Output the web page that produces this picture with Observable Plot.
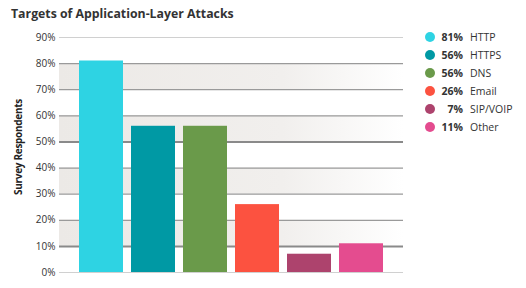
<!DOCTYPE html>
<html><head><meta charset="utf-8">
<script src="https://cdn.jsdelivr.net/npm/d3@7"></script>
<script src="https://cdn.jsdelivr.net/npm/@observablehq/plot@0.6"></script>
<style>
body{margin:0;background:#fff;font-family:"Open Sans",sans-serif;}
#wrap{position:relative;width:526px;height:288px;}
#title{position:absolute;left:11px;top:5px;font-size:12.3px;font-weight:bold;color:#333;white-space:nowrap;}
#legend{position:absolute;left:425px;top:28px;font-size:10.5px;color:#333;}
.row{height:18px;display:flex;align-items:center;}
.sw{width:10px;height:10px;border-radius:50%;margin-right:2px;}
.pct{width:26px;text-align:right;font-weight:bold;margin-right:7px;}
#ylab{position:absolute;left:-37px;top:140px;transform:rotate(-90deg);font-size:10px;font-weight:bold;color:#222;width:110px;text-align:center;white-space:nowrap;letter-spacing:-0.3px;}
</style></head>
<body><div id="wrap"><div id="chart"></div><div id="title">Targets of Application-Layer Attacks</div><div id="ylab">Survey Respondents</div><div id="legend"></div></div>
<script>
const categories = ["HTTP","HTTPS","DNS","Email","SIP/VOIP","Other"];
const values = [81,56,56,26,7,11];
const colors = ["#2ed3e3","#0099a4","#6a9a4a","#fc5240","#ad436d","#e44c8f"];
const ticks = [0,10,20,30,40,50,60,70,80,90];

const data = categories.map((c,i)=>({name:c,value:values[i],color:colors[i]}));
const bands = ticks.filter((t,i)=>i%2===1 && i<ticks.length-1).map(t=>({y1:t,y2:t+10}));

const chart = Plot.plot({
  width:526, height:288,
  marginLeft:59, marginRight:123, marginTop:37, marginBottom:16,
  style:{fontFamily:"Open Sans, sans-serif",fontSize:"10px",color:"#333",background:"transparent"},
  x:{domain:categories, axis:null, paddingInner:0.157, paddingOuter:0.383},
  y:{domain:[0,90], ticks:ticks, tickFormat:d=>d+"%", tickSize:0, tickPadding:4, label:null},
  marks:[
    Plot.rectY(bands,{y1:"y1",y2:"y2",fill:"#eeebe8",className:"band"}),
    Plot.ruleY(ticks.filter(t=>t>0&&t<90),{stroke:d=>(d===10||d===50)?"#8a8a8a":"#9a9a9a",strokeWidth:d=>(d===10||d===50)?2:1.2}),
    Plot.ruleY([90],{stroke:"#d0d0d0"}),
    Plot.ruleY([0],{stroke:"#d0d0d0"}),
    Plot.ruleX([0],{frameAnchor:"left",stroke:"#d0d0d0",y1:0,y2:90}),
    Plot.barY(data,{x:"name",y:"value",fill:"color"})
  ]
});
document.getElementById("chart").appendChild(chart);

// gradient for bands
const svg = d3.select(chart);
const defs = svg.insert("defs",":first-child");
const g = defs.append("linearGradient").attr("id","bandgrad").attr("x1","0").attr("x2","1").attr("y1","0").attr("y2","0");
g.append("stop").attr("offset","0%").attr("stop-color","#ece9e6");
g.append("stop").attr("offset","65%").attr("stop-color","#f1efed");
g.append("stop").attr("offset","100%").attr("stop-color","#ffffff");
svg.selectAll(".band rect").attr("fill","url(#bandgrad)");

const leg = d3.select("#legend");
data.forEach(d=>{
  const r = leg.append("div").attr("class","row");
  r.append("div").attr("class","sw").style("background",d.color);
  r.append("div").attr("class","pct").text(d.value+"%");
  r.append("div").text(d.name);
});
</script></body></html>
